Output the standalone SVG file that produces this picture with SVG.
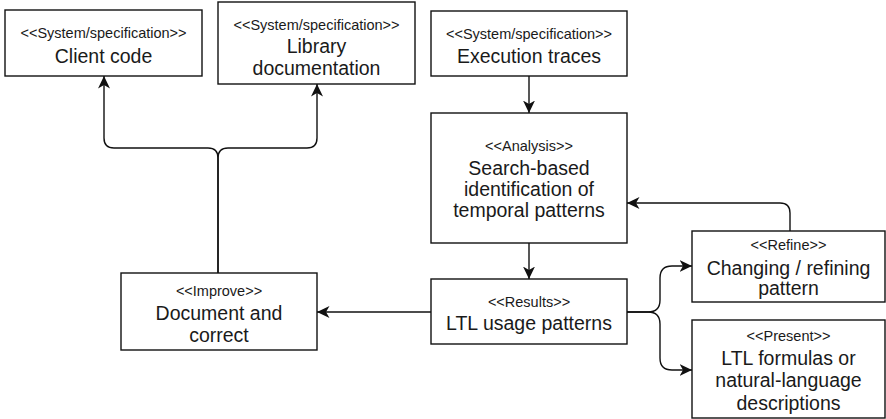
<svg xmlns="http://www.w3.org/2000/svg" width="886" height="419" viewBox="0 0 886 419">
  <defs>
    <marker id="arrow" markerUnits="userSpaceOnUse" markerWidth="14" markerHeight="14" refX="12.5" refY="6" orient="auto">
      <path d="M0,0 L12.5,6 L0,12 L3.5,6 Z" fill="#111"/>
    </marker>
    <style>
      .box { fill: #fff; stroke: #111; stroke-width: 1.4; }
      .st { font-family: "Liberation Sans", Arial, sans-serif; font-size: 14.5px; fill: #1a1a1a; text-anchor: middle; }
      .tx { font-family: "Liberation Sans", Arial, sans-serif; font-size: 19.5px; fill: #1a1a1a; text-anchor: middle; }
      .edge { fill: none; stroke: #111; stroke-width: 1.4; }
    </style>
  </defs>
  <rect width="886" height="419" fill="#fff"/>

  <g id="edges">
    <path class="edge" d="M529,76 V113" marker-end="url(#arrow)"/>
    <path class="edge" d="M529,243 V279" marker-end="url(#arrow)"/>
    <path class="edge" d="M431,312 H317" marker-end="url(#arrow)"/>
    <path class="edge" d="M790,231 V213 Q790,203 780,203 H627" marker-end="url(#arrow)"/>
    <path class="edge" d="M627,312 H648 Q660,312 660,300 V278 Q660,266 672,266 H692" marker-end="url(#arrow)"/>
    <path class="edge" d="M627,312 H648 Q660,312 660,324 V358 Q660,370 672,370 H692" marker-end="url(#arrow)"/>
    <path class="edge" d="M218,273 V158 Q218,148 208,148 H114 Q104,148 104,138 V76" marker-end="url(#arrow)"/>
    <path class="edge" d="M218,273 V158 Q218,148 228,148 H307 Q317,148 317,138 V84" marker-end="url(#arrow)"/>
  </g>

  <g id="client-code">
    <rect class="box" x="5" y="10" width="197" height="66"/>
    <text class="st" x="103.5" y="38">&lt;&lt;System/specification&gt;&gt;</text>
    <text class="tx" x="103.5" y="63">Client code</text>
  </g>

  <g id="library-documentation">
    <rect class="box" x="218" y="2" width="197" height="82"/>
    <text class="st" x="316.5" y="30">&lt;&lt;System/specification&gt;&gt;</text>
    <text class="tx" x="316.5" y="53">Library</text>
    <text class="tx" x="316.5" y="75">documentation</text>
  </g>

  <g id="execution-traces">
    <rect class="box" x="431" y="11" width="196" height="65"/>
    <text class="st" x="529" y="39">&lt;&lt;System/specification&gt;&gt;</text>
    <text class="tx" x="529" y="63">Execution traces</text>
  </g>

  <g id="analysis">
    <rect class="box" x="431" y="113" width="196" height="130"/>
    <text class="st" x="529" y="151">&lt;&lt;Analysis&gt;&gt;</text>
    <text class="tx" x="529" y="175">Search-based</text>
    <text class="tx" x="529" y="196">identification of</text>
    <text class="tx" x="529" y="217">temporal patterns</text>
  </g>

  <g id="results">
    <rect class="box" x="431" y="279" width="196" height="65"/>
    <text class="st" x="529" y="307">&lt;&lt;Results&gt;&gt;</text>
    <text class="tx" x="529" y="330">LTL usage patterns</text>
  </g>

  <g id="refine">
    <rect class="box" x="692" y="231" width="193" height="71"/>
    <text class="st" x="788.5" y="250">&lt;&lt;Refine&gt;&gt;</text>
    <text class="tx" x="788.5" y="275">Changing / refining</text>
    <text class="tx" x="788.5" y="295">pattern</text>
  </g>

  <g id="present">
    <rect class="box" x="692" y="320" width="193" height="98"/>
    <text class="st" x="788.5" y="341">&lt;&lt;Present&gt;&gt;</text>
    <text class="tx" x="788.5" y="365">LTL formulas or</text>
    <text class="tx" x="788.5" y="387">natural-language</text>
    <text class="tx" x="788.5" y="410">descriptions</text>
  </g>

  <g id="improve">
    <rect class="box" x="121" y="273" width="196" height="77"/>
    <text class="st" x="219" y="296">&lt;&lt;Improve&gt;&gt;</text>
    <text class="tx" x="219" y="320">Document and</text>
    <text class="tx" x="219" y="342">correct</text>
  </g>
</svg>
